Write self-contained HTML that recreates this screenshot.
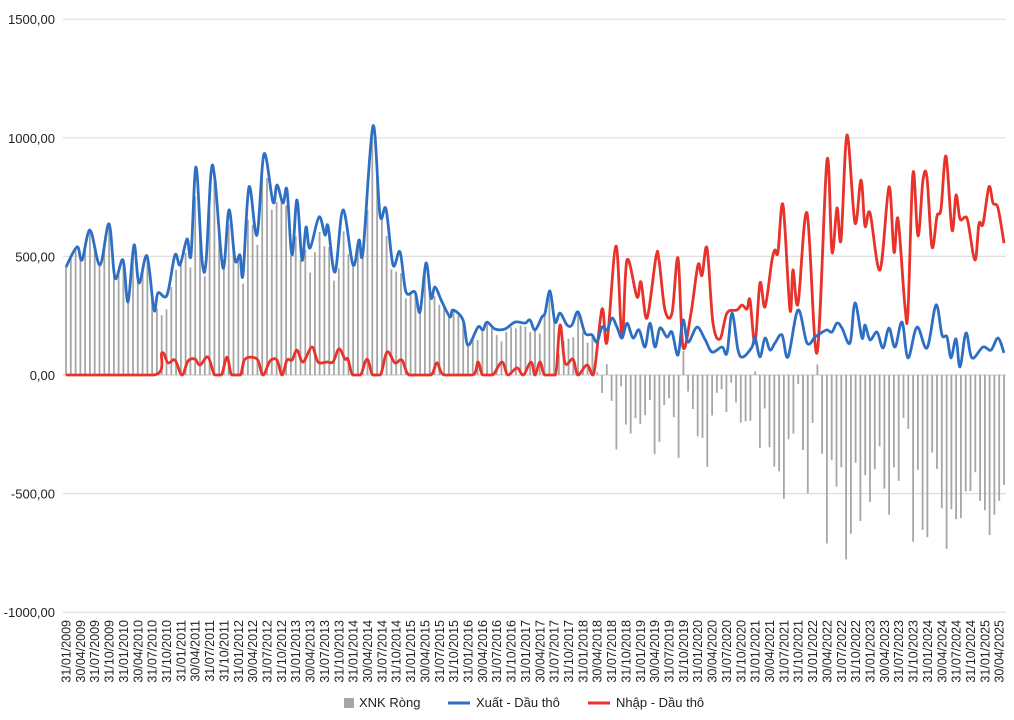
<!DOCTYPE html>
<html><head><meta charset="utf-8"><style>
html,body{margin:0;padding:0;background:#fff;}
svg{display:block;font-family:"Liberation Sans","DejaVu Sans",sans-serif;}
</style></head><body>
<svg id="c" width="1014" height="720" viewBox="0 0 1014 720" xmlns="http://www.w3.org/2000/svg">
<g id="grid"></g><g id="bars"></g><g id="lines"></g><g id="labels"></g>
<g font-size="13" fill="#222">
<rect x="344" y="698" width="10" height="10" fill="#a6a6a6"/><text x="359" y="707">XNK Ròng</text>
<line x1="448" y1="703" x2="470" y2="703" stroke="#2e6fc4" stroke-width="3"/><text x="476" y="707">Xuất - Dầu thô</text>
<line x1="588" y1="703" x2="610" y2="703" stroke="#e8322a" stroke-width="3"/><text x="616" y="707">Nhập - Dầu thô</text>
</g>
</svg>
<script>
var NS="http://www.w3.org/2000/svg";
function el(p,t,a,txt){var e=document.createElementNS(NS,t);for(var k in a)e.setAttribute(k,a[k]);if(txt!=null)e.textContent=txt;document.getElementById(p).appendChild(e);return e;}
function Y(v){return 375-v*0.2372;}
var vals=[1500,1000,500,0,-500,-1000];
vals.forEach(function(v){var y=Y(v);
el("grid","line",{x1:63,x2:1006,y1:y,y2:y,stroke:v==0?"#cfcfcf":"#dedede","stroke-width":1.2});
el("labels","text",{x:55,y:y+5,"text-anchor":"end","font-size":13,fill:"#222"},v.toFixed(2).replace(".",","));});
var E=[[66,455],[77,540],[82,485],[90,611],[100,464],[109,637],[115,409],[123,485],[128,308],[134,548],[139,388],[147,502],[154,274],[158,346],[167,337],[175,506],[180,464],[187,573],[191,506],[196,877],[202,485],[206,476],[211,852],[215,822],[223,451],[229,696],[235,485],[240,506],[243,422],[249,793],[257,590],[264,932],[273,729],[277,801],[283,725],[287,780],[292,506],[297,738],[302,485],[306,624],[310,535],[319,666],[325,590],[328,628],[335,434],[343,696],[353,464],[359,569],[363,519],[373,1050],[380,675],[386,700],[393,464],[400,519],[406,350],[415,350],[420,266],[426,472],[431,325],[435,371],[442,308],[450,245],[453,274],[463,232],[468,126],[478,202],[483,190],[487,223],[495,194],[505,194],[515,223],[525,219],[530,232],[535,190],[542,245],[545,261],[550,354],[555,223],[560,261],[567,211],[572,211],[578,266],[585,177],[592,169],[597,139],[602,202],[607,190],[612,240],[617,202],[622,156],[627,219],[633,156],[639,190],[645,118],[650,219],[655,118],[660,198],[667,160],[672,181],[678,84],[683,232],[688,139],[697,202],[705,150],[712,97],[722,118],[727,93],[732,261],[738,105],[743,76],[752,118],[755,160],[760,76],[765,156],[770,105],[775,135],[782,169],[788,76],[798,274],[807,135],[815,160],[821,177],[827,190],[832,181],[837,219],[842,198],[850,135],[855,304],[862,156],[865,211],[870,148],[877,181],[883,114],[889,198],[895,118],[902,223],[908,72],[917,202],[927,114],[936,295],[942,169],[947,160],[951,72],[956,152],[960,34],[966,177],[972,72],[983,118],[991,105],[998,156],[1004,93]];
var I=[[66,0],[152,0],[162,93],[168,51],[175,63],[182,0],[188,59],[195,67],[200,42],[208,76],[215,0],[221,0],[227,76],[232,0],[240,0],[245,67],[257,67],[263,0],[270,59],[277,63],[282,0],[287,63],[292,63],[297,105],[303,55],[312,118],[318,55],[327,55],[333,55],[339,110],[345,67],[348,67],[353,0],[360,0],[367,67],[373,0],[380,0],[387,97],[395,51],[402,63],[410,0],[430,0],[437,51],[445,0],[472,0],[478,55],[483,0],[492,0],[502,55],[508,0],[517,30],[523,0],[531,55],[535,0],[540,55],[545,0],[555,0],[560,211],[565,51],[573,67],[578,0],[587,42],[593,0],[602,278],[607,139],[616,544],[622,156],[627,485],[637,329],[641,392],[647,240],[656,498],[659,485],[665,274],[672,261],[678,493],[683,118],[691,261],[698,464],[702,420],[707,535],[713,219],[720,152],[727,261],[737,274],[742,295],[747,278],[750,316],[755,135],[760,388],[765,287],[772,485],[775,527],[778,518],[783,717],[790,274],[793,443],[798,300],[807,683],[817,93],[827,906],[832,518],[837,704],[841,569],[847,1012],[855,641],[861,822],[865,628],[870,683],[880,443],[889,793],[894,518],[898,658],[905,287],[908,270],[913,852],[918,586],[923,822],[927,831],[932,540],[937,670],[941,700],[946,923],[952,611],[956,759],[960,658],[965,666],[968,645],[975,485],[979,637],[983,637],[989,793],[993,725],[998,704],[1004,556]];
function interp(P,x){for(var i=1;i<P.length;i++){if(x<=P[i][0]){var a=P[i-1],b=P[i];var t=(x-a[0])/(b[0]-a[0]||1);return a[1]+t*(b[1]-a[1]);}}return P[P.length-1][1];}
function path(P,clamp){var pts=P.map(function(p){return [p[0],Y(p[1])];});var d="M"+pts[0][0]+","+pts[0][1];
function c(y){return clamp?Math.min(y,375):y;}
for(var i=0;i<pts.length-1;i++){var p0=pts[i-1]||pts[i],p1=pts[i],p2=pts[i+1],p3=pts[i+2]||p2;
var c1x=p1[0]+(p2[0]-p0[0])/6,c1y=c(p1[1]+(p2[1]-p0[1])/6),c2x=p2[0]-(p3[0]-p1[0])/6,c2y=c(p2[1]-(p3[1]-p1[1])/6);
if(clamp&&(p1[1]>=374.9)){c1y=375;} if(clamp&&(p2[1]>=374.9)){c2y=375;}
d+=" C"+c1x.toFixed(1)+","+c1y.toFixed(1)+" "+c2x.toFixed(1)+","+c2y.toFixed(1)+" "+p2[0]+","+p2[1].toFixed(1);}return d;}
var N=197,sp=(1004-66)/(N-1);
for(var i=0;i<N;i++){var x=66+i*sp;var v=interp(E,x)-interp(I,x);
el("bars","line",{x1:x.toFixed(1),x2:x.toFixed(1),y1:375,y2:Y(v).toFixed(1),stroke:"#a6a6a6","stroke-width":1.8});}
el("lines","path",{d:path(I,true),fill:"none",stroke:"#e8322a","stroke-width":2.8,"stroke-linejoin":"round"});
el("lines","path",{d:path(E,false),fill:"none",stroke:"#2e6fc4","stroke-width":2.8,"stroke-linejoin":"round"});
var mon=["01","04","07","10"],day=["31","30","31","31"];
for(var k=0;k<66;k++){var m=k%4,yr=2009+Math.floor(k/4);var x=66+k*3*sp+4.5;
el("labels","text",{x:0,y:0,"text-anchor":"end","font-size":12.5,fill:"#222",transform:"translate("+x.toFixed(1)+",620) rotate(-90)"},day[m]+"/"+mon[m]+"/"+yr);}
</script>
</body></html>
